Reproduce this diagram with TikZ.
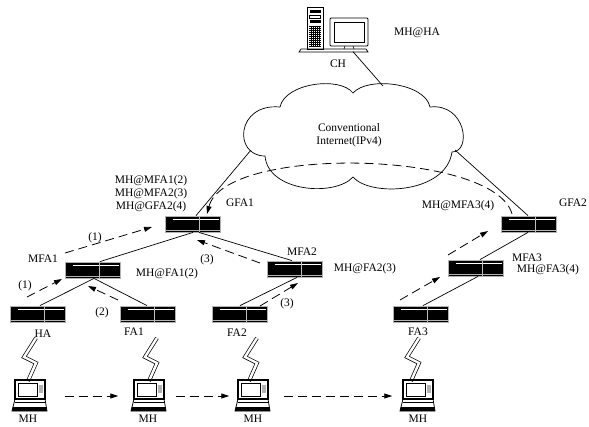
\documentclass[tikz,border=0pt]{standalone}
\usepackage{fontspec}
\setmainfont{Liberation Serif}
\usetikzlibrary{arrows.meta}
\tikzset{
  laptop/.pic={
    \draw[line width=1.1pt] (-15,-16) rectangle (15,3);
    \draw[line width=0.7pt] (-12,-13) rectangle (7,0);
    \fill[gray!60] (9,-11) rectangle (12.5,-3);
    \draw[line width=0.8pt] (-15,3) -- (15,3) -- (17,15) -- (-18,15) -- cycle;
    \draw[line width=0.5pt] (-15.5,6.5) -- (15.7,6.5);
    \fill (-17.2,11) -- (16.3,11) -- (17,15) -- (-18,15) -- cycle;
  },
  bolt/.pic={
    \draw[line width=0.7pt, double, double distance=2.4pt, line join=miter] (0,0) -- (-12,19) -- (0,25) -- (-8,43);
  }
}
\begin{document}
\begin{tikzpicture}[x=1pt,y=-1pt,
  every node/.style={font=\fontsize{11.5}{13}\selectfont, inner sep=0pt},
  router/.style={draw=gray!60, line width=0.8pt, fill=black, minimum width=55pt, minimum height=16pt, inner sep=0pt,
    path picture={
      \draw[white, line width=0.9pt] ([xshift=7pt,yshift=-3pt]path picture bounding box.north west) -- ([xshift=-2pt,yshift=-3pt]path picture bounding box.north east);
      \draw[gray!50, line width=1.6pt] ([xshift=34pt]path picture bounding box.north west) -- ([xshift=34pt]path picture bounding box.south west);
      \draw[gray!60, line width=0.8pt] ([yshift=2pt]path picture bounding box.south west) -- ([yshift=2pt]path picture bounding box.south east);
    }},
  hold/.style={minimum width=35pt, minimum height=32pt, inner sep=0pt},
  link/.style={line width=0.7pt},
  move/.style={line width=0.8pt, dash pattern=on 9pt off 5pt, -{Triangle[length=8pt,width=5pt]}},
]
\useasboundingbox[fill=white] (0,0) rectangle (589,426);

% ---- CH computer
\node[minimum width=68pt, minimum height=45pt] (CH) at (334,29) {};
\draw[line width=0.6pt] (307,7) rectangle (323,49);
\fill (309.5,10) rectangle (320.5,13);
\draw[line width=0.5pt] (309.5,15) rectangle (320.5,18);
\fill (309.5,20) rectangle (320.5,22.5);
\foreach \yy in {26,28,...,46} \draw[line width=0.35pt] (309,\yy) -- (321,\yy);
\foreach \xx in {311,313,...,319} \draw[line width=0.35pt] (\xx,26) -- (\xx,46);
\draw[line width=0.9pt, rounded corners=1pt] (330,18) rectangle (368,46);
\draw[line width=0.6pt] (334,22) rectangle (364,42);
\draw[line width=0.6pt] (345,46) -- (344,49) (353,46) -- (354,49);
\draw[line width=0.7pt] (301,49) -- (366,49) -- (368,52) -- (299,52) -- cycle;
\node (tCH) at (338,64) {CH};
\node (tMHHA) at (417,33) {MH@HA};

% ---- cloud
\draw[line width=0.7pt, fill=white]
  (280,107) .. controls (285,83) and (340,76) .. (353,93)
  .. controls (368,76) and (425,83) .. (430,107)
  .. controls (466,103) and (472,152) .. (452,152)
  .. controls (446,194) and (370,197) .. (353,177)
  .. controls (335,197) and (268,192) .. (265,156)
  .. controls (233,156) and (236,103) .. (280,107) -- cycle;
\node[align=center] (inet) at (349,135) {Conventional\\Internet(IPv4)};
\coordinate (c1) at (251,150);
\coordinate (c2) at (455,150);
\coordinate (c3) at (383,86);

% ---- routers
\node[router] (GFA1) at (193,224) {};
\node[router] (GFA2) at (529,224) {};
\node[router] (MFA1) at (93,270) {};
\node[router] (MFA2) at (295,269) {};
\node[router] (MFA3) at (476,268) {};
\node[router] (HA) at (38,314) {};
\node[router] (FA1) at (148,314) {};
\node[router] (FA2) at (240,314) {};
\node[router] (FA3) at (421,314) {};

% ---- links
\draw[link] ([xshift=19pt]CH.south) -- (c3);
\draw[link] ([xshift=3pt]GFA1.north) -- (c1);
\draw[link] ([xshift=-1pt]GFA2.north) -- (c2);
\draw[link] (GFA1.south) -- ([xshift=7pt]MFA1.north);
\draw[link] ([xshift=6pt]GFA1.south) -- ([xshift=-3pt]MFA2.north);
\draw[link] ([xshift=1pt]MFA1.south) -- ([xshift=2pt]HA.north);
\draw[link] ([xshift=1pt]MFA1.south) -- ([xshift=-1pt]FA1.north);
\draw[link] ([xshift=2pt]MFA2.south) -- (FA2.north);
\draw[link] ([xshift=2pt]FA3.north) -- ([xshift=2pt]MFA3.south);
\draw[link] ([xshift=4pt]MFA3.north) -- ([xshift=-1pt]GFA2.south);

% ---- movement arrows (signalling)
\coordinate (g2s) at (512,214);
\coordinate (g1t) at (207,214);
\draw[move] (g2s) .. controls (495,150) and (225,145) .. (g1t);
\coordinate (m1s) at (65,253);  \coordinate (m1t) at (152,227);
\coordinate (m2s) at (27,297);  \coordinate (m2t) at (62,279);
\coordinate (m3s) at (118,300); \coordinate (m3t) at (88,286);
\coordinate (m4s) at (260,263); \coordinate (m4t) at (197,240);
\coordinate (m5s) at (260,306); \coordinate (m5t) at (298,283);
\coordinate (m6s) at (400,300); \coordinate (m6t) at (440,277);
\coordinate (m7s) at (448,255); \coordinate (m7t) at (488,231);
\draw[move] (m1s) -- (m1t);
\draw[move] (m2s) -- (m2t);
\draw[move] (m3s) -- (m3t);
\draw[move] (m4s) -- (m4t);
\draw[move] (m5s) -- (m5t);
\draw[move] (m6s) -- (m6t);
\draw[move] (m7s) -- (m7t);

% ---- labels
\node[align=center] (tlist) at (151,194) {MH@MFA1(2)\\MH@MFA2(3)\\MH@GFA2(4)};
\node (tGFA1) at (240,203) {GFA1};
\node (tGFA2) at (573,203) {GFA2};
\node (tMFA34) at (458,206) {MH@MFA3(4)};
\node (tMFA1) at (43,259) {MFA1};
\node (tMFA2) at (302,252) {MFA2};
\node (tMFA3) at (527,258) {MFA3};
\node (tFA12) at (167,274) {MH@FA1(2)};
\node (tFA23) at (365,269) {MH@FA2(3)};
\node (tFA34) at (548,270) {MH@FA3(4)};
\node (n1a) at (95,238) {(1)};
\node (n3a) at (207,260) {(3)};
\node (n1b) at (25,286) {(1)};
\node (n2a) at (102,313) {(2)};
\node (n3b) at (287,304) {(3)};
\node (tHA) at (43,334) {HA};
\node (tFA1) at (134,332) {FA1};
\node (tFA2) at (237,333) {FA2};
\node (tFA3) at (418,332) {FA3};

% ---- wireless links
\pic at (36,338) {bolt};
\pic at (157,338) {bolt};
\pic at (257,338) {bolt};
\pic at (419,338) {bolt};

% ---- mobile host positions
\node[hold] (mh1) at (30,396) {};
\node[hold] (mh2) at (149,396) {};
\node[hold] (mh3) at (253,396) {};
\node[hold] (mh4) at (418,396) {};
\pic at (30,396) {laptop};
\pic at (149,396) {laptop};
\pic at (253,396) {laptop};
\pic at (418,396) {laptop};
\node (tMH1) at (28,419) {MH};
\node (tMH2) at (148,419) {MH};
\node (tMH3) at (253,419) {MH};
\node (tMH4) at (418,419) {MH};
\draw[move, shorten <=17pt, shorten >=13pt] (mh1.east) -- (mh2.west);
\draw[move, shorten <=9pt, shorten >=6pt] (mh2.east) -- (mh3.west);
\draw[move, shorten <=13pt, shorten >=8pt] (mh3.east) -- (mh4.west);
\end{tikzpicture}
\end{document}
